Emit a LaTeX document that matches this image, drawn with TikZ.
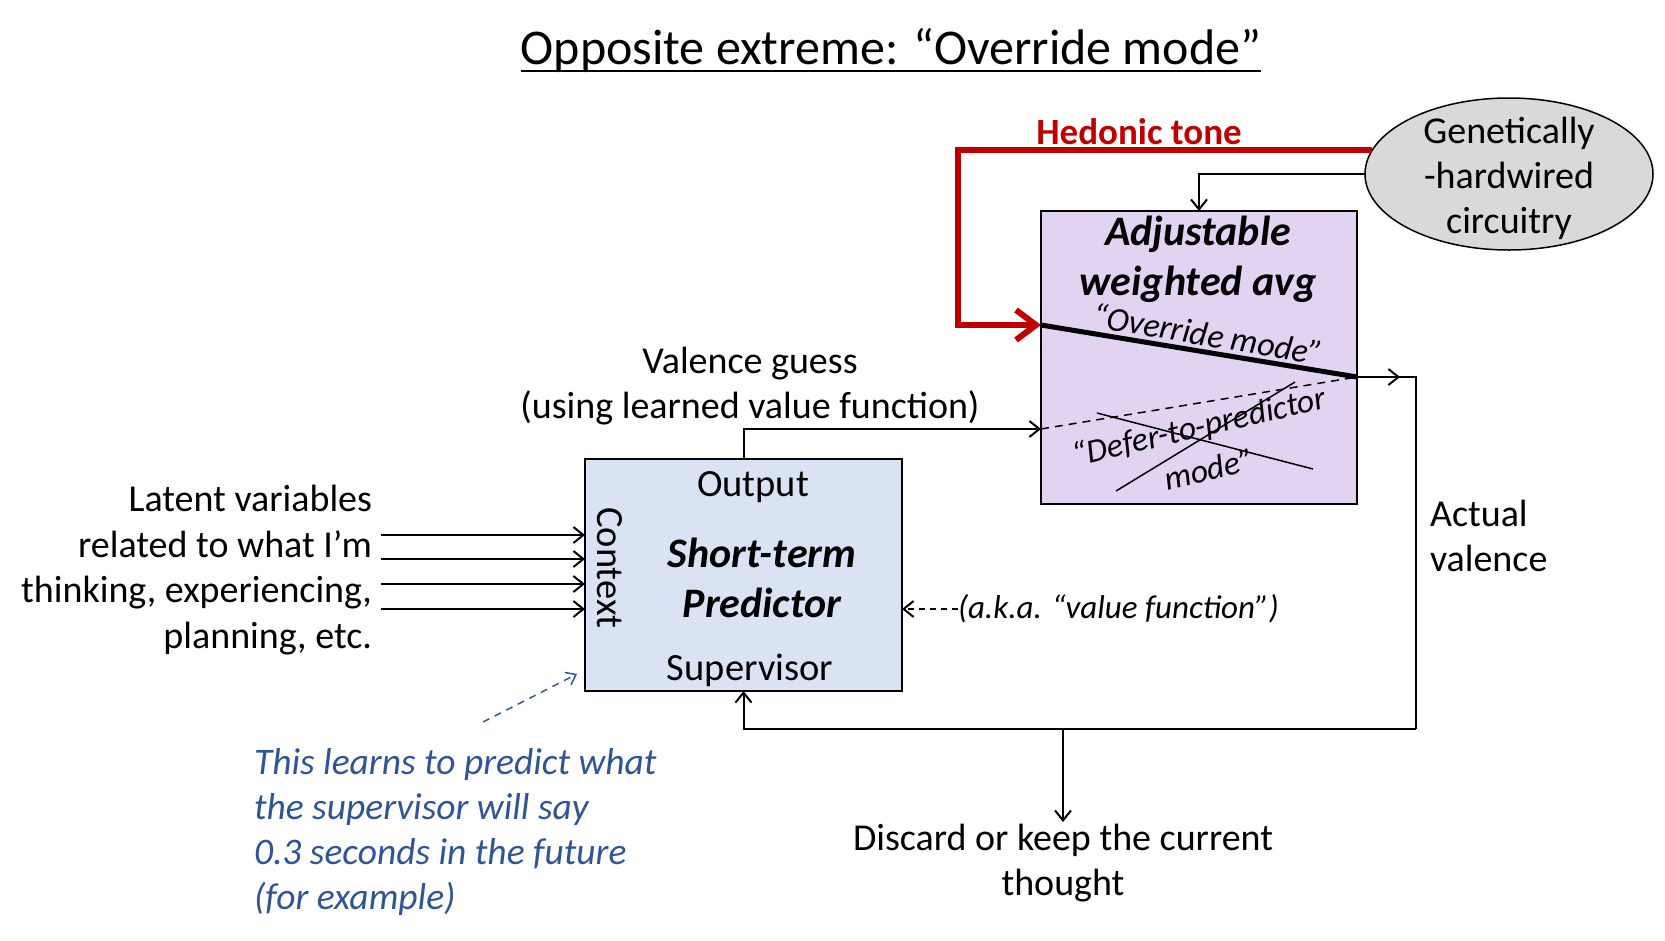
\documentclass[tikz,border=0pt]{standalone}
\usepackage{fontspec}
\setmainfont{Carlito}
\usetikzlibrary{arrows.meta,shapes.geometric}
\definecolor{predfill}{HTML}{DAE3F3}
\definecolor{avgfill}{HTML}{E1D3F1}
\definecolor{hedred}{HTML}{C00000}
\definecolor{noteblue}{HTML}{2F5597}
\definecolor{ellfill}{HTML}{D9D9D9}
\newcommand\setfs[2]{\fontsize{#1}{#2}\selectfont}
\begin{document}
\begin{tikzpicture}[x=1pt,y=-1pt,
  txt/.style={inner sep=0pt, outer sep=0pt},
  conn/.style={line width=2pt},
  arr/.style={conn, -{Straight Barb[length=10pt,width=16pt]}},
  boxstyle/.style={draw, line width=2.5pt, inner sep=0pt, outer sep=0pt},
  hedonic/.style={line width=6pt, hedred, -{Straight Barb[length=20pt,width=30pt]}},
  bodytext/.style={txt, font=\setfs{38}{45.5}},
  innertext/.style={txt, font=\setfs{38.5}{45}},
]
\useasboundingbox (0,0) rectangle (1665,940);

% title
\node[txt, anchor=base, font=\setfs{50}{60}] (title) at (891,64) {Opposite extreme: “Override mode”};
\draw[line width=2.5pt] ([yshift=-7pt]title.base west) -- ([yshift=-7pt]title.base east);

% boxes
\node[boxstyle, fill=predfill, minimum width=317pt, minimum height=232pt] (pred) at (743.5,575) {};
\node[boxstyle, fill=avgfill, minimum width=316pt, minimum height=293pt] (avg) at (1199,357.5) {};
\node[draw, line width=1.5pt, fill=ellfill, ellipse, minimum width=288pt, minimum height=152pt, inner sep=0pt, outer sep=0pt] (gen) at (1509,174) {};
\node[txt, align=center, font=\setfs{38}{45}] (gent) at (1509,178) {Genetically\\-hardwired\\circuitry};

% coordinates
\coordinate (ovs) at (1041,325);
\coordinate (ove) at (1357,377);
\coordinate (dfs) at (1041,429);
\coordinate (vtip) at (1400,377);
\coordinate (rc) at (958,0);
\coordinate (fr) at (1416,729);
\coordinate (dj) at (1063,729);
\coordinate (dt) at (1063,822);
\coordinate (in1) at (381,535);
\coordinate (in2) at (381,559);
\coordinate (in3) at (381,584);
\coordinate (in4) at (381,609);
\coordinate (ns) at (483,722);
\coordinate (ne) at (577,674);

% lines inside the weighted avg box
\draw[line width=5pt] (ovs) -- (ove);
\draw[line width=1.5pt, dashed, dash pattern=on 8pt off 6pt] (dfs) -- (ove);
\coordinate (x1a) at (1097,413);
\coordinate (x1b) at (1313,469);
\coordinate (x2a) at (1116,491);
\coordinate (x2b) at (1295,382);
\draw[line width=1.5pt] (x1a) -- (x1b);
\draw[line width=1.5pt] (x2a) -- (x2b);

% texts in the boxes
\node[txt, align=center, font=\setfs{42}{50}\bfseries\itshape] (avgt) at (1198,259) {Adjustable\\weighted avg};
\node[txt, anchor=base, rotate=-9.5, font=\setfs{34}{40}\itshape] (ovt) at (1206,346) {“Override mode”};
\node[txt, align=center, rotate=13, font=\setfs{33.5}{44}\itshape] (dft) at (1204,447) {“Defer-to-predictor\\mode”};

\node[innertext, anchor=base] (outp) at (753,496) {Output};
\node[txt, align=center, font=\setfs{42}{50}\bfseries\itshape] (stp) at (762,578) {Short-term\\Predictor};
\node[innertext, anchor=base] (sup) at (750,680) {Supervisor};
\node[innertext, rotate=-90] (ctx) at (610,568) {Context};

% connectors
\draw[hedonic] (gen.170) -- (gen.170 -| rc) |- (ovs);
\draw[arr] (gen.west) -| (avg.north);
\draw[arr] (pred.north) |- (dfs);
\draw[conn] (ove) -| (fr);
\draw[arr] (fr) -| (pred.south);
\draw[arr] (ove) -- (vtip);
\draw[arr] (dj) -- (dt);
\foreach \i in {in1,in2,in3,in4} \draw[arr] (\i) -- (\i -| pred.west);
\draw[line width=1.5pt, noteblue, dashed, dash pattern=on 7pt off 6pt, -{Straight Barb[length=9pt,width=14pt]}] (ns) -- (ne);

% outside texts
\node[txt, anchor=base, text=hedred, font=\setfs{37}{44}\bfseries] (hed) at (1139,144) {Hedonic tone};
\node[bodytext, align=center] (vg) at (750,386) {Valence guess\\(using learned value function)};
\node[bodytext, align=right, anchor=east] (lat) at (372,570) {Latent variables\\related to what I’m\\thinking, experiencing,\\planning, etc.};
\node[bodytext, align=left, anchor=west] (act) at (1430,536) {Actual\\valence};
\node[bodytext, align=center] (disc) at (1063,863) {Discard or keep the current\\thought};
\node[txt, anchor=west, font=\setfs{33}{40}\itshape] (aka) at (958,609) {(a.k.a. “value function”)};
\draw[conn, dashed, dash pattern=on 6pt off 5pt, -{Straight Barb[length=10pt,width=16pt]}] (aka.west) -- (aka.west -| pred.east);
\node[txt, align=left, anchor=west, text=noteblue, font=\setfs{37.5}{45}\itshape] (note) at (254,832) {This learns to predict what\\the supervisor will say\\0.3 seconds in the future\\(for example)};
\end{tikzpicture}
\end{document}
